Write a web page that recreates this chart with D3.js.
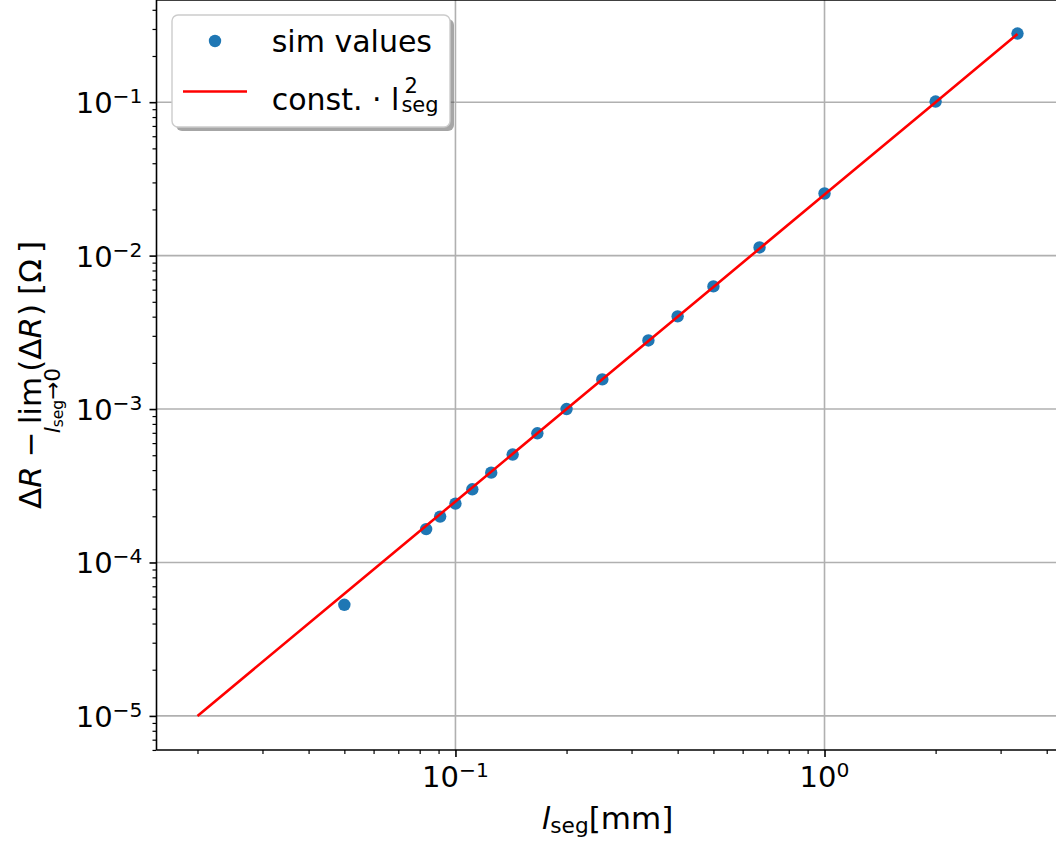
<!DOCTYPE html>
<html>
<head>
<meta charset="utf-8">
<script src="https://cdn.jsdelivr.net/npm/d3@7"></script>
<style>
  body { margin: 0; background: #fff; }
  svg { display: block; }
  text { font-family: "DejaVu Sans", sans-serif; fill: #000; }
</style>
</head>
<body>
<svg id="chart" width="1056" height="841"></svg>
<script>
// Segment length l_seg [mm] and simulated resistance offset [Ohm]
const segLength = [0.05, 0.0833, 0.0909, 0.1, 0.1111, 0.125, 0.1429, 0.1667, 0.2, 0.25,
                   0.3333, 0.4, 0.5, 0.6667, 1, 2, 3.3333];
const deltaR = [5.3e-5, 1.65e-4, 1.99e-4, 2.42e-4, 3.0e-4, 3.85e-4, 5.05e-4, 6.95e-4, 1.0e-3, 1.56e-3,
                2.8e-3, 4.02e-3, 6.3e-3, 0.0113, 0.0254, 0.101, 0.28];

// Quadratic reference curve const * l_seg^2 (const = 0.025)
const fitLength = [0.02, 0.05, 0.1, 0.2, 0.5, 1, 2, 3.3333];
const fitDeltaR = [1e-5, 6.25e-5, 2.5e-4, 1e-3, 6.25e-3, 0.025, 0.1, 0.27778];

// Axis limits (log, with 5% padding) and decade ticks
const xDomain = [0.015487, 4.3053];
const yDomain = [5.9955e-6, 0.4634];
const xTickExp = [-1, 0];
const yTickExp = [-5, -4, -3, -2, -1];

const legendLabels = ["sim values", "const. \u00b7 l"];

const W = 1056, H = 841;
const M = { left: 156.5, top: 0, width: 902, height: 750 };
const FS_TICK = 29, FS_LABEL = 31, FS_LEG = 30;

const svg = d3.select("#chart");

const x = d3.scaleLog().domain(xDomain).range([M.left, M.left + M.width]);
const y = d3.scaleLog().domain(yDomain).range([M.top + M.height, M.top]);

// minor tick values for each log axis
function minors(domain) {
  const out = [];
  for (let e = Math.floor(Math.log10(domain[0])); e <= Math.ceil(Math.log10(domain[1])); e++) {
    for (let k = 2; k <= 9; k++) {
      const v = k * Math.pow(10, e);
      if (v >= domain[0] && v <= domain[1]) out.push(v);
    }
  }
  return out;
}
const xMajor = xTickExp.map(e => Math.pow(10, e));
const yMajor = yTickExp.map(e => Math.pow(10, e));

// grid
const grid = svg.append("g").attr("stroke", "#b0b0b0").attr("stroke-width", 1.6);
grid.selectAll(".gx").data(xMajor).join("line")
  .attr("x1", d => x(d)).attr("x2", d => x(d))
  .attr("y1", M.top).attr("y2", M.top + M.height);
grid.selectAll(".gy").data(yMajor).join("line")
  .attr("x1", M.left).attr("x2", W)
  .attr("y1", d => y(d)).attr("y2", d => y(d));

// axes (tick marks only; labels drawn with superscripts below)
function styleAxis(g, w) {
  g.select(".domain").remove();
  g.selectAll(".tick line").attr("stroke", "#000").attr("stroke-width", w);
  g.selectAll(".tick text").remove();
}
svg.append("g").attr("transform", `translate(0,${M.top + M.height})`)
  .call(d3.axisBottom(x).tickValues(minors(xDomain)).tickSize(4).tickFormat(""))
  .call(g => styleAxis(g, 1.2));
svg.append("g").attr("transform", `translate(0,${M.top + M.height})`)
  .call(d3.axisBottom(x).tickValues(xMajor).tickSize(7).tickFormat(""))
  .call(g => styleAxis(g, 1.6));
svg.append("g").attr("transform", `translate(${M.left},0)`)
  .call(d3.axisLeft(y).tickValues(minors(yDomain)).tickSize(4).tickFormat(""))
  .call(g => styleAxis(g, 1.2));
svg.append("g").attr("transform", `translate(${M.left},0)`)
  .call(d3.axisLeft(y).tickValues(yMajor).tickSize(7).tickFormat(""))
  .call(g => styleAxis(g, 1.6));

// spines
const spine = svg.append("g").attr("stroke", "#000").attr("stroke-width", 1.6).attr("fill", "none");
spine.append("line").attr("x1", M.left).attr("x2", M.left).attr("y1", M.top).attr("y2", M.top + M.height);
spine.append("line").attr("x1", M.left).attr("x2", M.left + M.width).attr("y1", M.top + M.height).attr("y2", M.top + M.height);
spine.append("line").attr("x1", M.left).attr("x2", M.left + M.width).attr("y1", M.top).attr("y2", M.top);
spine.append("line").attr("x1", M.left + M.width).attr("x2", M.left + M.width).attr("y1", M.top).attr("y2", M.top + M.height);

// power-of-ten tick labels
function powLabel(sel, e) {
  sel.append("tspan").text("10");
  sel.append("tspan").attr("dy", -10).attr("font-size", FS_TICK * 0.7)
    .text(e < 0 ? "\u2212" + (-e) : String(e));
}
xTickExp.forEach(e => {
  const t = svg.append("text").attr("x", x(Math.pow(10, e))).attr("y", 787)
    .attr("text-anchor", "middle").attr("font-size", FS_TICK);
  powLabel(t, e);
});
yTickExp.forEach(e => {
  const t = svg.append("text").attr("x", 142.5).attr("y", y(Math.pow(10, e)) + 11)
    .attr("text-anchor", "end").attr("font-size", FS_TICK);
  powLabel(t, e);
});

// data
const plot = svg.append("g");
plot.selectAll("circle").data(segLength.map((l, i) => [l, deltaR[i]])).join("circle")
  .attr("cx", d => x(d[0])).attr("cy", d => y(d[1])).attr("r", 6.2)
  .attr("fill", "#1f77b4");
// fit line drawn over the markers
plot.append("path")
  .datum(fitLength.map((l, i) => [l, fitDeltaR[i]]))
  .attr("fill", "none").attr("stroke", "#ff0000").attr("stroke-width", 2.6)
  .attr("d", d3.line().x(d => x(d[0])).y(d => y(d[1])));

// x label: l_seg[mm]
(function () {
  const t = svg.append("text").attr("x", M.left + M.width / 2).attr("y", 829)
    .attr("text-anchor", "middle").attr("font-size", FS_LABEL);
  t.append("tspan").attr("font-style", "italic").text("l");
  t.append("tspan").attr("font-size", FS_LABEL * 0.7).attr("dy", 4).text("seg");
  t.append("tspan").attr("dy", -4).text("[mm]");
})();

// y label: ΔR − lim_{l_seg→0}(ΔR) [Ω ]
(function () {
  const g = svg.append("g").attr("transform", `translate(41,${M.top + M.height / 2}) rotate(-90)`);
  const inner = g.append("g");
  let cx = 0;
  function piece(str, opts = {}) {
    cx += opts.pre || 0;
    const t = inner.append("text").attr("x", cx).attr("y", opts.dy || 0)
      .attr("font-size", opts.fs || FS_LABEL)
      .attr("font-style", opts.italic ? "italic" : "normal")
      .text(str);
    const w = t.node().getComputedTextLength();
    const start = cx;
    cx += w + (opts.gap || 0);
    return { start, w };
  }
  piece("\u0394");
  piece("R", { italic: true, gap: 2 });
  piece("\u2212", { pre: 7, gap: 7 });
  const lim = piece("lim", { gap: 5 });
  piece("(");
  piece("\u0394");
  piece("R", { italic: true, gap: 1 });
  piece(")");
  piece("[", { pre: 9 });
  piece("\u03a9", { gap: 6 });
  piece("]");
  const total = cx;

  // subscript under "lim"
  const fsS = FS_LABEL * 0.7, fsSS = FS_LABEL * 0.5;
  const sub = inner.append("text").attr("y", 19).attr("font-size", fsS);
  sub.append("tspan").attr("font-style", "italic").text("l");
  sub.append("tspan").attr("font-size", fsSS).attr("dy", 3).text("seg");
  sub.append("tspan").attr("dy", -3).text("\u21920");
  const sw = sub.node().getComputedTextLength();
  sub.attr("x", lim.start + lim.w / 2 - sw / 2);

  inner.attr("transform", `translate(${-total / 2},0)`);
})();

// legend
(function () {
  const lg = svg.append("g");
  const bx = 172, by = 15, bw = 278, bh = 112;
  lg.append("rect").attr("x", bx + 4).attr("y", by + 4).attr("width", bw).attr("height", bh)
    .attr("rx", 6).attr("fill", "#4d4d4d").attr("fill-opacity", 0.5);
  lg.append("rect").attr("x", bx).attr("y", by).attr("width", bw).attr("height", bh)
    .attr("rx", 6).attr("fill", "#fff").attr("stroke", "#cccccc").attr("stroke-width", 1.4);

  lg.append("circle").attr("cx", 215).attr("cy", 41).attr("r", 6.2).attr("fill", "#1f77b4");
  lg.append("text").attr("x", 271.7).attr("y", 52).attr("font-size", FS_LEG).text(legendLabels[0]);

  lg.append("line").attr("x1", 183).attr("x2", 247).attr("y1", 91.5).attr("y2", 91.5)
    .attr("stroke", "#ff0000").attr("stroke-width", 2.6);
  // one text element: "const. · l" followed by stacked ^2 and _seg
  const t = lg.append("text").attr("x", 271.7).attr("y", 110).attr("font-size", FS_LEG)
    .attr("xml:space", "preserve");
  t.append("tspan").text(legendLabels[1]);
  const w = t.node().getComputedTextLength();
  const sx = 271.7 + w + 2;
  t.append("tspan").attr("x", sx).attr("dy", 2).attr("font-size", FS_LEG * 0.7).text("seg");
  t.append("tspan").attr("x", sx + 3).attr("dy", -19).attr("font-size", FS_LEG * 0.7).text("2");
})();
</script>
</body>
</html>
